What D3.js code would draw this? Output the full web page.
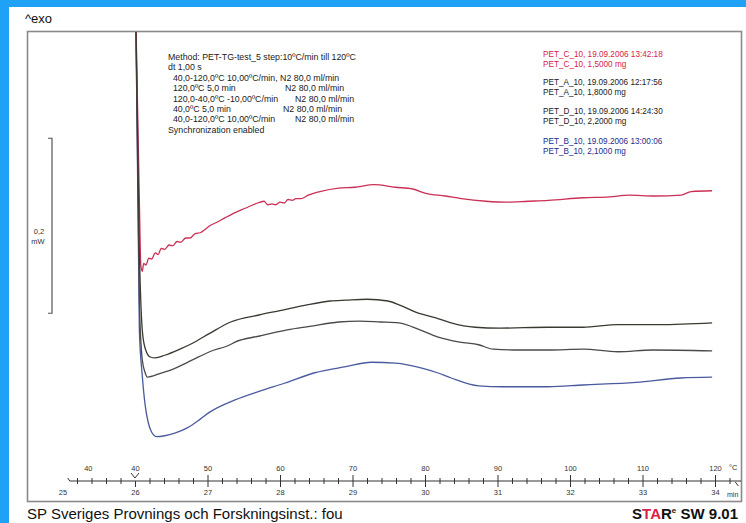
<!DOCTYPE html>
<html>
<head>
<meta charset="utf-8">
<script src="https://cdn.jsdelivr.net/npm/d3@7"></script>
<style>
  body { margin: 0; background: #1fa2f5; }
  svg { display: block; }
  text { font-family: "Liberation Sans", Arial, sans-serif; }
</style>
</head>
<body>
<svg id="chart" width="746" height="523"></svg>
<script>
// curves: [time in min, heat flow in mW]
const petC = [[26.01,0.509],[26.06,0.291],[26.08,0.217],[26.10,0.210],[26.12,0.219],[26.15,0.217],[26.19,0.225],
  [26.23,0.224],[26.28,0.231],[26.32,0.229],[26.36,0.236],[26.41,0.235],[26.47,0.240],[26.52,0.239],[26.58,0.244],
  [26.63,0.243],[26.70,0.248],[26.76,0.248],[26.83,0.253],[26.90,0.254],[26.97,0.258],[27.03,0.262],[27.13,0.266],
  [27.24,0.271],[27.38,0.277],[27.52,0.282],[27.66,0.287],[27.78,0.290],[27.83,0.286],[27.89,0.287],[27.94,0.286],
  [28.00,0.289],[28.06,0.288],[28.11,0.292],[28.17,0.291],[28.22,0.293],[28.29,0.293],[28.39,0.297],[28.55,0.301],
  [28.81,0.305],[29.03,0.306],[29.30,0.309],[29.59,0.306],[29.83,0.304],[30.01,0.299],[30.28,0.296],[30.50,0.293],
  [30.84,0.290],[31.13,0.289],[31.42,0.290],[31.70,0.291],[32.18,0.294],[32.55,0.295],[32.81,0.297],[33.17,0.296],
  [33.53,0.297],[33.67,0.301],[33.96,0.302]];
const petA = [[26.01,0.509],[26.06,0.234],[26.10,0.143],[26.14,0.122],[26.21,0.112],[26.28,0.111],[26.41,0.114],
  [26.62,0.121],[26.80,0.128],[27.03,0.139],[27.32,0.152],[27.71,0.160],[28.00,0.165],[28.34,0.171],[28.69,0.176],
  [28.91,0.177],[29.20,0.178],[29.49,0.176],[29.66,0.171],[29.88,0.163],[30.14,0.157],[30.36,0.151],[30.69,0.146],
  [31.03,0.145],[31.70,0.146],[32.18,0.146],[32.66,0.149],[33.24,0.149],[33.96,0.151]];
const petD = [[26.01,0.509],[26.06,0.177],[26.10,0.109],[26.14,0.094],[26.17,0.089],[26.34,0.093],[26.55,0.099],
  [26.80,0.109],[27.03,0.118],[27.31,0.126],[27.38,0.129],[27.72,0.136],[28.10,0.143],[28.41,0.147],[28.81,0.152],
  [29.10,0.153],[29.39,0.152],[29.64,0.151],[29.93,0.143],[30.17,0.135],[30.48,0.129],[30.74,0.126],[30.94,0.121],
  [31.31,0.120],[31.70,0.120],[32.18,0.121],[32.66,0.118],[33.14,0.120],[33.96,0.119]];
const petB = [[26.01,0.509],[26.06,0.143],[26.10,0.091],[26.14,0.057],[26.18,0.038],[26.23,0.026],[26.30,0.021],
  [26.41,0.022],[26.55,0.025],[26.72,0.031],[26.90,0.041],[27.03,0.049],[27.38,0.063],[27.72,0.073],
  [28.06,0.082],[28.48,0.094],[28.91,0.101],[29.26,0.106],[29.59,0.105],[29.97,0.099],[30.17,0.094],[30.36,0.088],
  [30.74,0.079],[31.08,0.078],[31.70,0.078],[32.18,0.080],[32.91,0.083],[33.53,0.088],[33.96,0.089]];

const timeTicks = [26, 27, 28, 29, 30, 31, 32, 33, 34];
const timeLabels = [25, 26, 27, 28, 29, 30, 31, 32, 33, 34];
const tempLabels = [40, 40, 50, 60, 70, 80, 90, 100, 110, 120];
const tempLabelTimes = [25.35, 26, 27, 28, 29, 30, 31, 32, 33, 34];

const methodLines = [
  "Method: PET-TG-test_5 step:10ºC/min till 120ºC",
  "dt 1,00 s",
  "  40,0-120,0ºC 10,00ºC/min, N2 80,0 ml/min",
  "  120,0ºC 5,0 min",
  "  120,0-40,0ºC -10,00ºC/min",
  "  40,0ºC 5,0 min",
  "  40,0-120,0ºC 10,00ºC/min",
  "Synchronization enabled"
];
const methodGas = [null, null, null, "N2 80,0 ml/min", "N2 80,0 ml/min", "N2 80,0 ml/min", "N2 80,0 ml/min", null];
const gasX = [0, 0, 0, 285, 295, 283, 295, 0];

const legendLines = [
  ["PET_C_10, 19.09.2006 13:42:18", "PET_C_10, 1,5000 mg"],
  ["PET_A_10, 19.09.2006 12:17:56", "PET_A_10, 1,8000 mg"],
  ["PET_D_10, 19.09.2006 14:24:30", "PET_D_10, 2,2000 mg"],
  ["PET_B_10, 19.09.2006 13:00:06", "PET_B_10, 2,1000 mg"]
];
const legendY = [54, 82, 111, 141];
const colors = ["#cc2f55", "#3a3a32", "#4a4a4a", "#4a5a9e"];
const legendColors = ["#d8224a", "#222", "#222", "#1c2c8c"];

const svg = d3.select("#chart");
svg.append("rect").attr("width", 746).attr("height", 523).attr("fill", "#1fa2f5");
svg.append("rect").attr("x", 9).attr("y", 7).attr("width", 737).attr("height", 516).attr("fill", "#fff");

svg.append("text").attr("x", 25).attr("y", 23).attr("font-size", 13).attr("fill", "#111").text("^exo");

// frame
svg.append("rect").attr("x", 27.5).attr("y", 31.5).attr("width", 714).attr("height", 470)
  .attr("fill", "none").attr("stroke", "#8a8a8a").attr("stroke-width", 1.6);

const x = d3.scaleLinear().domain([26, 34]).range([135, 715]);
const y = d3.scaleLinear().domain([0, 424 / 875]).range([455, 31]);

svg.append("clipPath").attr("id", "clip")
  .append("rect").attr("x", 28).attr("y", 32).attr("width", 713).attr("height", 440);

const line = d3.line().x(d => x(d[0])).y(d => y(d[1])).curve(d3.curveMonotoneX);
// draw order: blue first so the shared start drop shows dark
const curves = [3, 2, 0, 1].map(i => ({ data: [petC, petA, petD, petB][i], color: colors[i] }));
svg.append("g").attr("clip-path", "url(#clip)")
  .selectAll("path").data(curves).enter().append("path")
  .attr("d", d => line(d.data))
  .attr("fill", "none")
  .attr("stroke", d => d.color)
  .attr("stroke-width", 1.3);

// 0,2 mW scale bar
const bar = svg.append("g").attr("stroke", "#555").attr("stroke-width", 1.2).attr("fill", "none");
bar.append("path").attr("d", `M48,${y(0.362)}H52V${y(0.162)}H48`);
svg.append("text").attr("x", 39).attr("y", 234).attr("font-size", 7.5).attr("text-anchor", "middle").attr("fill", "#333").text("0,2");
svg.append("text").attr("x", 38).attr("y", 244).attr("font-size", 7.5).attr("text-anchor", "middle").attr("fill", "#333").text("mW");

// method text
const mt = svg.append("g").attr("font-size", 8.8).attr("fill", "#222");
methodLines.forEach((s, i) => {
  mt.append("text").attr("x", 168).attr("y", 60 + i * 10.4).attr("xml:space", "preserve").text(s);
  if (methodGas[i]) mt.append("text").attr("x", gasX[i]).attr("y", 60 + i * 10.4).text(methodGas[i]);
});

// legend
const lg = svg.append("g").attr("font-size", 8.2);
legendLines.forEach((pair, i) => {
  pair.forEach((s, j) => {
    lg.append("text").attr("x", 543).attr("y", legendY[i] + 3 + j * 10).attr("fill", legendColors[i]).text(s);
  });
});

// time / temperature axis
const axY = 481;
const ax = svg.append("g").attr("transform", `translate(0,${axY})`);
ax.append("line").attr("x1", x(25.1)).attr("x2", x(34.36)).attr("stroke", "#333").attr("stroke-width", 1);
ax.append("path").attr("d", `M${x(25.1)},0 l-2,-3`).attr("stroke", "#333").attr("fill", "none");

const minorTicks = d3.range(25.2, 34.25, 0.2).filter(t => Math.abs(t - Math.round(t)) > 0.01);
const styleAxis = g => { g.select(".domain").remove(); g.selectAll("line").attr("stroke", "#333"); };
ax.append("g").call(d3.axisBottom(x).tickValues(minorTicks).tickSize(3).tickFormat("")).call(styleAxis);
ax.append("g").call(d3.axisTop(x).tickValues(minorTicks).tickSize(3).tickFormat("")).call(styleAxis);
ax.append("g").call(d3.axisBottom(x).tickValues(timeTicks).tickSize(6).tickFormat("")).call(styleAxis);
ax.append("g").call(d3.axisTop(x).tickValues(timeTicks.filter(t => t > 26)).tickSize(6).tickFormat("")).call(styleAxis);
// segment start marker at 26 min
ax.append("path").attr("d", `M${x(26) - 4},-8 L${x(26)},-3 L${x(26) + 4},-8`).attr("stroke", "#333").attr("fill", "none");

const labelAxis = (g, fs) => {
  g.select(".domain").remove();
  g.selectAll("text").attr("font-size", fs).attr("fill", "#333").attr("font-family", "Liberation Sans, Arial, sans-serif");
};
ax.append("g").call(d3.axisBottom(x).tickValues(timeLabels).tickSize(0).tickPadding(9)).call(g => labelAxis(g, 7.5));
ax.append("g").call(d3.axisTop(x).tickValues(tempLabelTimes).tickSize(0).tickPadding(10)
  .tickFormat((d, i) => tempLabels[i])).call(g => labelAxis(g, 7.5));
ax.append("path").attr("d", `M${x(34.28)},1 l3,4`).attr("stroke", "#333").attr("fill", "none");
svg.append("text").attr("x", 729).attr("y", 470).attr("font-size", 7.5).attr("fill", "#333").text("°C");
svg.append("text").attr("x", 727).attr("y", 497).attr("font-size", 7).attr("fill", "#333").text("min");

// footer
svg.append("text").attr("x", 27).attr("y", 519).attr("font-size", 15).attr("fill", "#111")
  .text("SP Sveriges Provnings och Forskningsinst.: fou");
const star = svg.append("text").attr("x", 738).attr("y", 519).attr("text-anchor", "end")
  .attr("font-size", 15).attr("font-weight", "bold").attr("fill", "#111");
star.append("tspan").text("S");
star.append("tspan").attr("fill", "#d8224a").text("TA");
star.append("tspan").text("R");
star.append("tspan").attr("font-size", 8).attr("dy", -6).text("e");
star.append("tspan").attr("dy", 6).text(" SW 9.01");
</script>
</body>
</html>
